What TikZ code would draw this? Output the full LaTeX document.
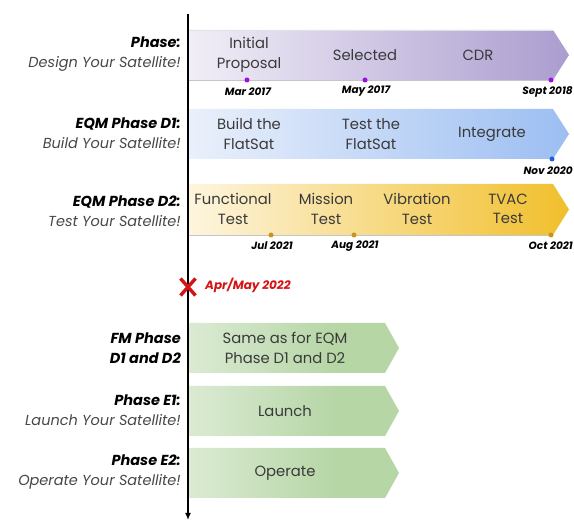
\documentclass[tikz,border=0pt]{standalone}
\usepackage{fontspec}
\setmainfont{Poppins}
\usetikzlibrary{arrows.meta}

\definecolor{purpA}{HTML}{F1EEF7}
\definecolor{purpB}{HTML}{AB9DCF}
\definecolor{blueA}{HTML}{EAF0FB}
\definecolor{blueB}{HTML}{9CBEF2}
\definecolor{yelA}{HTML}{FDF5DE}
\definecolor{yelB}{HTML}{F1BF2C}
\definecolor{grnA}{HTML}{F5F9F3}
\definecolor{grnB}{HTML}{B6D6A6}
\definecolor{dotP}{HTML}{9B10E8}
\definecolor{dotB}{HTML}{1F5FD6}
\definecolor{dotY}{HTML}{C8961E}
\definecolor{txt}{HTML}{3A3A3A}
\definecolor{subtxt}{HTML}{474747}
\definecolor{edge}{HTML}{C4C4CC}
\definecolor{alert}{HTML}{D41414}

\pgfdeclarehorizontalshading{greenfade}{100bp}{color(0bp)=(grnA); color(60bp)=(grnB); color(100bp)=(grnB)}

\tikzset{
  steptext/.style={align=center, text=txt, font=\fontsize{14.8}{19.5}\selectfont, inner sep=0pt},
  phaselabel/.style={align=right, anchor=east, inner sep=0pt, font=\fontsize{14.5}{20}\selectfont},
  datelabel/.style={text=black, font=\fontsize{10.5}{12}\selectfont\bfseries\itshape, inner sep=0pt},
  milestone/.style={circle, inner sep=0pt, minimum size=5pt},
  edgeline/.style={draw=edge, line width=0.8pt},
}

\newcommand\phaselines[2]{{\bfseries\itshape #1}\\{\color{subtxt}\itshape #2}}

\begin{document}
\begin{tikzpicture}[x=1pt, y=-1pt]
\useasboundingbox (0,0) rectangle (574,521);

% ---- long arrows (design, D1, D2) ----
\path[left color=purpA, right color=purpB]
  (189,30) -- (553,30) -- (569,55) -- (553,80) -- (189,80) -- cycle;
\draw[edgeline] (189,80) -- (553,80);
\draw[draw=edge!50, line width=0.5pt] (189,30) -- (553,30);

\path[left color=blueA, right color=blueB]
  (189,109) -- (553,109) -- (569,134) -- (553,159) -- (189,159) -- cycle;

\path[left color=yelA, right color=yelB]
  (189,184) -- (553,184) -- (569,209.5) -- (553,235) -- (189,235) -- cycle;
\draw[edgeline] (189,235) -- (553,235);

% ---- short arrows (FM, E1, E2) ----
\path[shading=greenfade]
  (189,323) -- (385,323) -- (399,348) -- (385,373) -- (189,373) -- cycle;
\path[shading=greenfade]
  (189,386) -- (385,386) -- (399,411) -- (385,436) -- (189,436) -- cycle;
\path[shading=greenfade]
  (189,448) -- (385,448) -- (399,473) -- (385,498) -- (189,498) -- cycle;

% ---- time axis ----
\coordinate (axtop) at (188,14);
\coordinate (axbot) at (188,520);
\draw[line width=1.4pt, -{Latex[length=7pt,width=6pt]}] (axtop) -- (axbot);

% ---- phase labels ----
\node[phaselabel] (pdesign) at (181,54) {\phaselines{Phase:}{Design Your Satellite!}};
\node[phaselabel] (pd1) at (181,133) {\phaselines{EQM Phase D1:}{Build Your Satellite!}};
\node[phaselabel] (pd2) at (181,211) {\phaselines{EQM Phase D2:}{Test Your Satellite!}};
\node[phaselabel, font=\fontsize{14.5}{20}\selectfont\bfseries\itshape] (pfm) at (181,348) {FM Phase\\D1 and D2};
\node[phaselabel] (pe1) at (181,410) {\phaselines{Phase E1:}{Launch Your Satellite!}};
\node[phaselabel] (pe2) at (181,472) {\phaselines{Phase E2:}{Operate Your Satellite!}};

% ---- step texts ----
\node[steptext] (s1) at (249,55) {Initial\\Proposal};
\node[steptext] (s2) at (365,55) {Selected};
\node[steptext] (s3) at (478,55) {CDR};
\node[steptext] (s4) at (249,134) {Build the\\FlatSat};
\node[steptext] (s5) at (371,134) {Test the\\FlatSat};
\node[steptext] (s6) at (492,134) {Integrate};
\node[steptext] (s7) at (233,209) {Functional\\Test};
\node[steptext] (s8) at (326,209) {Mission\\Test};
\node[steptext] (s9) at (417,209) {Vibration\\Test};
\node[steptext] (s10) at (508,209) {TVAC\\Test};
\node[steptext] (s11) at (285,348) {Same as for EQM\\Phase D1 and D2};
\node[steptext] (s12) at (285,411) {Launch};
\node[steptext] (s13) at (285,473) {Operate};

% ---- milestones ----
\node[milestone, fill=dotP] (m1) at (247,80) {};
\node[milestone, fill=dotP] (m2) at (365,80) {};
\node[milestone, fill=dotP] (m3) at (551,80) {};
\node[milestone, fill=dotB] (m4) at (552,159) {};
\node[milestone, fill=dotY] (m5) at (271,235) {};
\node[milestone, fill=dotY] (m6) at (354,235) {};
\node[milestone, fill=dotY] (m7) at (551,235) {};

\node[datelabel] (d1) at (248,91.5) {Mar 2017};
\node[datelabel] (d2) at (366,91.5) {May 2017};
\node[datelabel, anchor=east] (d3) at (573,91.5) {Sept 2018};
\node[datelabel, anchor=east] (d4) at (573,170.5) {Nov 2020};
\node[datelabel] (d5) at (272,246) {Jul 2021};
\node[datelabel] (d6) at (355,246) {Aug 2021};
\node[datelabel, anchor=east] (d7) at (573,246) {Oct 2021};

% ---- cancelled launch marker ----
\coordinate (xc) at (188,287);
\draw[alert, line width=3.4pt] ([shift={(-7.5,-8.5)}]xc) -- ([shift={(7.5,8.5)}]xc)
                               ([shift={(-7.5,8.5)}]xc) -- ([shift={(7.5,-8.5)}]xc);
\node[anchor=west, text=alert, font=\fontsize{12}{14}\selectfont\bfseries\itshape, inner sep=0pt] (xlabel) at (205,285) {Apr/May 2022};
\end{tikzpicture}
\end{document}
